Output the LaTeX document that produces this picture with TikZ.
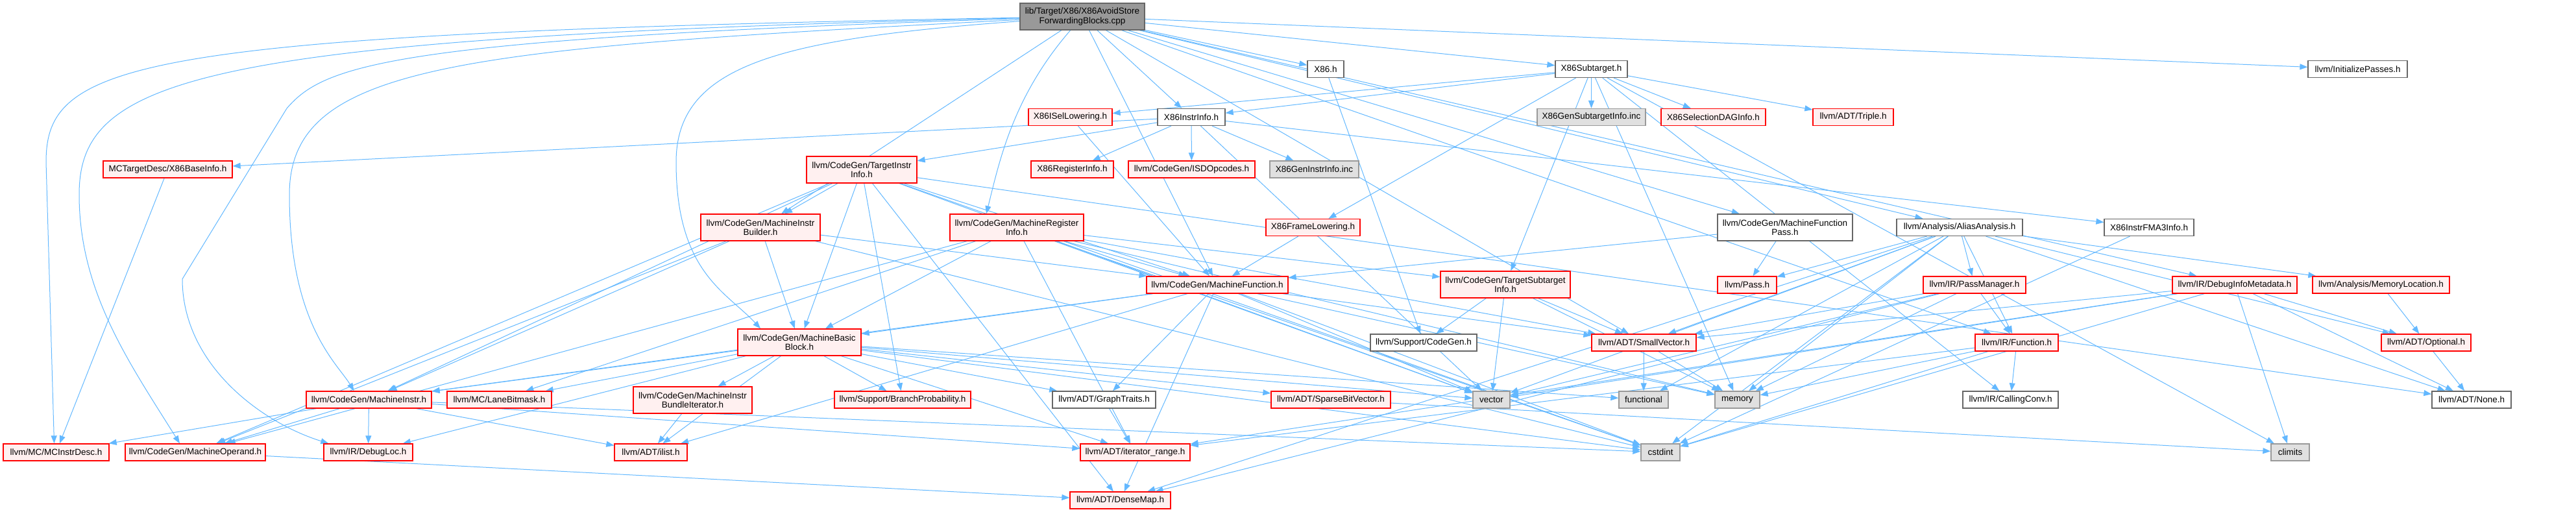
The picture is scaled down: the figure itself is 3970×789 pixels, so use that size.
\documentclass[tikz,border=0pt]{standalone}
\usepackage{fontspec}
\setmainfont{Liberation Sans}
\usetikzlibrary{arrows.meta,backgrounds}
\definecolor{edgeblue}{HTML}{63B8FF}
\definecolor{hdrfill}{HTML}{FFF0F0}
\definecolor{sysfill}{HTML}{E0E0E0}
\definecolor{rootfill}{HTML}{999999}
\definecolor{rootline}{HTML}{666666}

\begin{document}
\begin{tikzpicture}[x=1pt,y=-1pt,font=\fontsize{13.5}{14.5}\selectfont,
   nbox/.style={draw,line width=1.3pt,minimum height=26pt,inner xsep=3pt,inner ysep=1pt,align=center},
   hdr/.style={nbox,draw=red,fill=hdrfill},
   plain/.style={nbox,draw=black!60,fill=white},
   sys/.style={nbox,draw=black!40,fill=sysfill},
   root/.style={nbox,draw=rootline,fill=rootfill},
   tall/.style={minimum height=41pt},
   inc/.style={draw=edgeblue,line width=1pt,-{Triangle[length=12pt,width=9pt]}}]
  \useasboundingbox (0,0) rectangle (3970,789);
  % row 0 and 1
  \node[root,tall,minimum width=192pt] (root) at (1668,25.5) {lib/Target/X86/X86AvoidStore\\ForwardingBlocks.cpp};
  \node[plain,minimum width=56pt] (xeight) at (2043,106.5) {X86.h};
  \node[plain,minimum width=111pt] (subtgt) at (2452.5,106.5) {X86Subtarget.h};
  \node[plain,minimum width=153pt] (initpass) at (3633.5,106.5) {llvm/InitializePasses.h};
  % row 2
  \node[hdr,minimum width=129pt] (isel) at (1649.5,180.5) {X86ISelLowering.h};
  \node[plain,minimum width=104pt] (instrinfo) at (1836,180.5) {X86InstrInfo.h};
  \node[sys,minimum width=167pt] (gensub) at (2452.5,180.5) {X86GenSubtargetInfo.inc};
  \node[hdr,minimum width=161pt] (seldag) at (2640.5,180.5) {X86SelectionDAGInfo.h};
  \node[hdr,minimum width=124pt] (triple) at (2856,180.5) {llvm/ADT/Triple.h};
  % row 3
  \node[hdr,minimum width=199pt] (baseinfo) at (258.5,261) {MCTargetDesc/X86BaseInfo.h};
  \node[hdr,tall,minimum width=170pt] (tii) at (1328,261.5) {llvm/CodeGen/TargetInstr\\Info.h};
  \node[hdr,minimum width=127pt] (reginfo) at (1652.5,261) {X86RegisterInfo.h};
  \node[hdr,minimum width=195pt] (isdop) at (1836.5,261) {llvm/CodeGen/ISDOpcodes.h};
  \node[sys,minimum width=137pt] (geninstr) at (2025.5,261) {X86GenInstrInfo.inc};
  % row 4
  \node[hdr,tall,minimum width=184pt] (mib) at (1172,350.5) {llvm/CodeGen/MachineInstr\\Builder.h};
  \node[hdr,tall,minimum width=206pt] (mri) at (1567,350.5) {llvm/CodeGen/MachineRegister\\Info.h};
  \node[hdr,minimum width=145pt] (framelow) at (2023.5,350.5) {X86FrameLowering.h};
  \node[plain,tall,minimum width=208pt] (mfpass) at (2751,350.5) {llvm/CodeGen/MachineFunction\\Pass.h};
  \node[plain,minimum width=194pt] (aa) at (3020,350.5) {llvm/Analysis/AliasAnalysis.h};
  \node[plain,minimum width=138pt] (fmathree) at (3312,350.5) {X86InstrFMA3Info.h};
  % row 5
  \node[hdr,minimum width=218pt] (mf) at (1876,439) {llvm/CodeGen/MachineFunction.h};
  \node[hdr,tall,minimum width=200pt] (tsi) at (2320,438.5) {llvm/CodeGen/TargetSubtarget\\Info.h};
  \node[hdr,minimum width=91pt] (passh) at (2692.5,439) {llvm/Pass.h};
  \node[hdr,minimum width=158pt] (passmgr) at (3043,439) {llvm/IR/PassManager.h};
  \node[hdr,minimum width=192pt] (dim) at (3444,439) {llvm/IR/DebugInfoMetadata.h};
  \node[hdr,minimum width=211pt] (memloc) at (3669.5,439) {llvm/Analysis/MemoryLocation.h};
  % row 6
  \node[hdr,tall,minimum width=190pt] (mbb) at (1232,527.5) {llvm/CodeGen/MachineBasic\\Block.h};
  \node[plain,minimum width=164pt] (cgen) at (2194,528) {llvm/Support/CodeGen.h};
  \node[hdr,minimum width=161pt] (smallvec) at (2533.5,528) {llvm/ADT/SmallVector.h};
  \node[hdr,minimum width=128pt] (func) at (3108,528) {llvm/IR/Function.h};
  \node[hdr,minimum width=138pt] (optional) at (3739,528) {llvm/ADT/Optional.h};
  % row 7
  \node[hdr,minimum width=193pt] (minstr) at (568.5,616) {llvm/CodeGen/MachineInstr.h};
  \node[hdr,minimum width=161pt] (lanebm) at (769.5,616) {llvm/MC/LaneBitmask.h};
  \node[hdr,tall,minimum width=183pt] (bundleit) at (1067.5,616.5) {llvm/CodeGen/MachineInstr\\BundleIterator.h};
  \node[hdr,minimum width=210pt] (branchprob) at (1391,616) {llvm/Support/BranchProbability.h};
  \node[plain,minimum width=159pt] (graphtr) at (1701.5,616) {llvm/ADT/GraphTraits.h};
  \node[hdr,minimum width=184pt] (sparsebv) at (2051,616) {llvm/ADT/SparseBitVector.h};
  \node[sys,minimum width=57pt] (vec) at (2298.5,616) {vector};
  \node[sys,minimum width=76pt] (functional) at (2533,616) {functional};
  \node[sys,minimum width=69pt] (memory) at (2677.5,616) {memory};
  \node[plain,minimum width=147pt] (callconv) at (3098.5,616) {llvm/IR/CallingConv.h};
  \node[plain,minimum width=122pt] (nonehdr) at (3809,616) {llvm/ADT/None.h};
  % row 8 and 9
  \node[hdr,minimum width=163pt] (mcdesc) at (86.5,697) {llvm/MC/MCInstrDesc.h};
  \node[hdr,minimum width=216pt] (mop) at (301,697) {llvm/CodeGen/MachineOperand.h};
  \node[hdr,minimum width=137pt] (dloc) at (567.5,697) {llvm/IR/DebugLoc.h};
  \node[hdr,minimum width=112pt] (ilist) at (1003,697) {llvm/ADT/ilist.h};
  \node[hdr,minimum width=169pt] (itrange) at (1749.5,697) {llvm/ADT/iterator\_range.h};
  \node[sys,minimum width=60pt] (cstdint) at (2559,697) {cstdint};
  \node[sys,minimum width=59pt] (climits) at (3529.5,697) {climits};
  \node[hdr,minimum width=155pt] (densemap) at (1726.5,771) {llvm/ADT/DenseMap.h};

  \begin{scope}[on background layer]
    \foreach \t in {xeight,subtgt,instrinfo,initpass,mib,mf,mfpass,smallvec,aa,dim,func}
      \draw[inc] (root) -- (\t);
    \draw[inc] (root) .. controls (200,52) and (71,95) .. (71,250) -- ([xshift=-3pt]mcdesc.north);
    \draw[inc] (root) .. controls (300,58) and (122,120) .. (122,300)
      .. controls (122,450) and (200,560) .. ([xshift=-24pt]mop.north);
    \draw[inc] (root) .. controls (600,60) and (500,100) .. (442,167) -- (281,430)
      .. controls (281,560) and (400,650) .. ([xshift=8pt]dloc.north west);
    \draw[inc] (root) .. controls (700,75) and (446,100) .. (446,300)
      .. controls (446,500) and (520,560) .. ([xshift=-23pt]minstr.north);
    \draw[inc] (root) .. controls (1200,60) and (1042,100) .. (1042,250)
      .. controls (1042,420) and (1120,450) .. ([xshift=-60pt]mbb.north);
    \draw[inc] (root) .. controls (1560,150) and (1540,250) .. ([xshift=-47pt]mri.north);
    \draw[inc] (xeight) -- (cgen);
    \foreach \t in {isel,instrinfo,gensub,seldag,triple,framelow,tsi,callconv,climits,memory}
      \draw[inc] (subtgt) -- (\t);
    \foreach \t in {baseinfo,tii,reginfo,isdop,geninstr,fmathree,vec}
      \draw[inc] (instrinfo) -- (\t);
    \draw[inc] (isel) -- (mf);
    \draw[inc] (framelow) -- (mf);
    \draw[inc] (baseinfo) -- (mcdesc);
    \foreach \t in {mib,mbb,mf,minstr,mop,branchprob,densemap,nonehdr,cstdint,vec}
      \draw[inc] (tii) -- (\t);
    \foreach \t in {mbb,mf,minstr,mop,cstdint}
      \draw[inc] (mib) -- (\t);
    \foreach \t in {mbb,mf,mop,tsi,smallvec,itrange,lanebm,cstdint,memory,vec}
      \draw[inc] (mri) -- (\t);
    \foreach \t in {mbb,minstr,densemap,graphtr,smallvec,ilist,cstdint,memory,vec}
      \draw[inc] (mf) -- (\t);
    \foreach \t in {graphtr,sparsebv,ilist,itrange,minstr,bundleit,dloc,lanebm,branchprob,cstdint,functional,vec}
      \draw[inc] (mbb) -- (\t);
    \foreach \t in {mcdesc,mop,dloc,ilist,itrange,cstdint}
      \draw[inc] (minstr) -- (\t);
    \draw[inc] (bundleit) -- (ilist);
    \draw[inc] (mop) -- (densemap);
    \draw[inc] (graphtr) -- (itrange);
    \draw[inc] (sparsebv) -- (climits);
    \foreach \t in {cgen,smallvec,vec,memory}
      \draw[inc] (tsi) -- (\t);
    \draw[inc] (smallvec) -- (functional);
    \draw[inc] (smallvec) -- (memory);
    \draw[inc] (mfpass) -- (mf);
    \draw[inc] (mfpass) -- (passh);
    \foreach \t in {densemap,nonehdr,optional,smallvec,memloc,func,passmgr,passh,cstdint,functional,memory,vec}
      \draw[inc] (aa) -- (\t);
    \draw[inc] (fmathree) -- (cstdint);
    \foreach \t in {func,densemap,smallvec,memory,vec}
      \draw[inc] (passmgr) -- (\t);
    \foreach \t in {callconv,itrange,cstdint,memory}
      \draw[inc] (func) -- (\t);
    \foreach \t in {nonehdr,optional,climits,smallvec,itrange,cstdint,vec}
      \draw[inc] (dim) -- (\t);
    \draw[inc] (memloc) -- (optional);
    \draw[inc] (optional) -- (nonehdr);
  \end{scope}
\end{tikzpicture}
\end{document}
